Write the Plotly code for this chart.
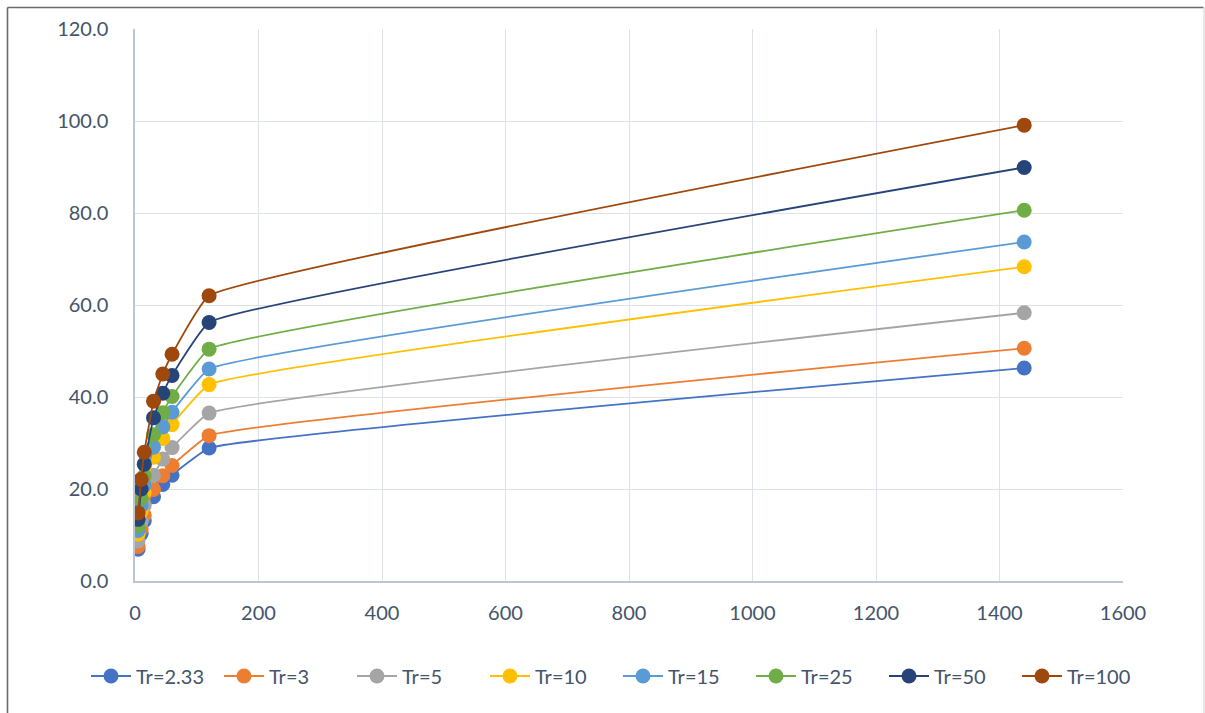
import plotly.graph_objects as go

durations = [5, 10, 15, 30, 45, 60, 120, 1440]
series_names = ["Tr=2.33", "Tr=3", "Tr=5", "Tr=10", "Tr=15", "Tr=25", "Tr=50", "Tr=100"]
tr_2_33 = [6.9, 10.3, 13.1, 18.3, 21.0, 23.0, 28.9, 46.3]
tr_3 = [7.5, 11.3, 14.3, 19.9, 22.9, 25.1, 31.6, 50.6]
tr_5 = [8.7, 13.0, 16.5, 23.0, 26.5, 29.0, 36.5, 58.3]
tr_10 = [10.2, 15.2, 19.3, 26.9, 31.0, 34.0, 42.7, 68.3]
tr_15 = [11.0, 16.4, 20.8, 29.1, 33.5, 36.7, 46.1, 73.7]
tr_25 = [12.0, 18.0, 22.8, 31.8, 36.6, 40.1, 50.4, 80.6]
tr_50 = [13.4, 20.0, 25.4, 35.5, 40.8, 44.7, 56.2, 89.9]
tr_100 = [14.8, 22.1, 28.0, 39.1, 45.0, 49.3, 62.0, 99.1]
colors = ["#4472C4", "#ED7D31", "#A5A5A5", "#FFC000", "#5B9BD5", "#70AD47", "#264478", "#9E480E"]

all_series = [tr_2_33, tr_3, tr_5, tr_10, tr_15, tr_25, tr_50, tr_100]

W, H = 1205, 713
L, R, T, B = 135, 82, 29, 132
pw, ph = W - L - R, H - T - B


def px_x(p):
    return (p - L) / pw


def px_y(p):
    return (H - B - p) / ph


fig = go.Figure()
for name, vals, c in zip(series_names, all_series, colors):
    fig.add_trace(go.Scatter(
        x=durations, y=vals, name=name, mode="lines+markers",
        line=dict(color=c, width=1.8, shape="spline", smoothing=0.3),
        marker=dict(color=c, size=15),
    ))

font_color = "#44546A"
fig.update_layout(
    width=W, height=H,
    margin=dict(l=L, r=R, t=T, b=B),
    paper_bgcolor="white", plot_bgcolor="white",
    font=dict(family="Lato, Open Sans, sans-serif", size=20, color=font_color),
    showlegend=True,
    legend=dict(orientation="h", xref="paper", x=px_x(86), xanchor="left",
                yref="paper", y=px_y(676), yanchor="middle",
                font=dict(size=20, color=font_color), itemwidth=40,
                entrywidth=78,
                bgcolor="rgba(0,0,0,0)"),
    xaxis=dict(range=[0, 1600], tick0=0, dtick=200, showgrid=True,
               gridcolor="#DDE1E8", gridwidth=1.2, showline=True,
               linecolor="#BCC5D4", linewidth=1.5, zeroline=False,
               ticks="outside", ticklen=13, tickcolor="rgba(0,0,0,0)",
               tickfont=dict(size=20, color=font_color), fixedrange=True),
    yaxis=dict(range=[0, 120], tick0=0, dtick=20, showgrid=True,
               gridcolor="#DDE1E8", gridwidth=1.2, showline=True,
               linecolor="#BCC5D4", linewidth=1.5, zeroline=False,
               ticks="outside", ticklen=21, tickcolor="rgba(0,0,0,0)",
               tickformat=".1f", tickfont=dict(size=20, color=font_color),
               fixedrange=True),
)

# outer chart-area frame
fig.add_shape(type="line", xref="paper", yref="paper",
              x0=px_x(7.5), x1=px_x(7.5), y0=px_y(7.5), y1=px_y(720),
              line=dict(color="#6B6B6B", width=1.6))
fig.add_shape(type="line", xref="paper", yref="paper",
              x0=px_x(7.5), x1=px_x(1203.5), y0=px_y(7.5), y1=px_y(7.5),
              line=dict(color="#6B6B6B", width=1.6))
fig.add_shape(type="line", xref="paper", yref="paper",
              x0=px_x(1204), x1=px_x(1204), y0=px_y(7.5), y1=px_y(720),
              line=dict(color="#D0D0D0", width=1))

fig.write_html("out.html")
